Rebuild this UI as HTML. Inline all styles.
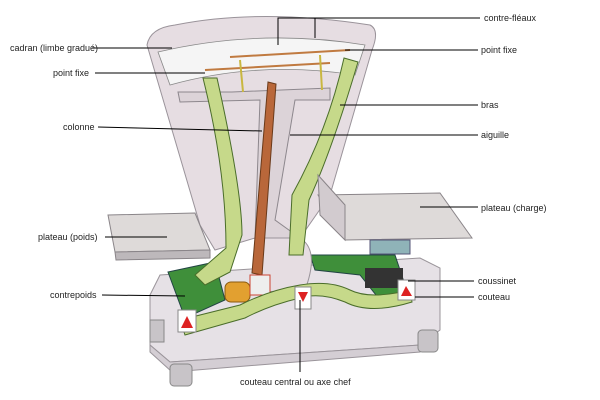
<!DOCTYPE html>
<html><head><meta charset="utf-8"><style>
html,body{margin:0;padding:0;background:#fff}
svg{display:block}
text{font-family:"Liberation Sans",sans-serif;font-size:9px;fill:#222}
</style></head><body>
<svg width="600" height="400" viewBox="0 0 600 400" xmlns="http://www.w3.org/2000/svg">
<!-- base -->
<path d="M150,295 L160,275 L420,258 L440,268 L440,330 L420,345 L170,362 L150,345 Z" fill="#e6e1e6" stroke="#9a949a" stroke-width="1"/>
<path d="M150,345 L170,362 L420,345 L420,352 L172,372 L150,352 Z" fill="#d4ced4" stroke="#9a949a"/>
<rect x="170" y="364" width="22" height="22" rx="4" fill="#c8c4c8" stroke="#888"/>
<rect x="150" y="320" width="14" height="22" fill="#c8c4c8" stroke="#888"/>
<rect x="418" y="330" width="20" height="22" rx="4" fill="#c8c4c8" stroke="#888"/>
<!-- green frame -->
<path d="M168,272 L215,262 L225,300 L185,318 Z" fill="#3f8f3a" stroke="#244"/>
<path d="M310,255 L395,255 L410,300 L380,300 L360,275 L315,270 Z" fill="#3f8f3a" stroke="#244"/>
<rect x="365" y="268" width="38" height="20" fill="#333" />
<!-- head -->
<path d="M147,45 Q150,28 175,25 Q260,8 370,25 Q380,30 372,50 L330,195 L300,238 L255,238 L215,250 L200,225 Z" fill="#e6dde2" stroke="#9a939a"/>
<path d="M158,52 Q260,28 365,45 L355,75 Q260,60 170,85 Z" fill="#f5f5f5" stroke="#888" stroke-width="0.8"/>
<!-- column -->
<path d="M232,92 L330,88 L330,100 L295,100 L275,220 L300,238 L255,238 L260,100 L180,102 L178,92 Z" fill="#dcd3d8" stroke="#8d878d"/>
<path d="M255,238 L300,238 Q320,250 305,290 L260,292 Z" fill="#e6dde2" stroke="#9a939a"/>
<!-- beams -->
<line x1="205" y1="70" x2="330" y2="63" stroke="#c07a40" stroke-width="2"/>
<line x1="230" y1="57" x2="350" y2="50" stroke="#c07a40" stroke-width="2"/>
<line x1="240" y1="60" x2="243" y2="92" stroke="#c9b740" stroke-width="2"/>
<line x1="320" y1="55" x2="322" y2="90" stroke="#c9b740" stroke-width="2"/>
<!-- green arms -->
<path d="M203,78 L217,78 Q242,190 242,235 L230,272 L205,285 L195,275 L226,248 Q226,170 203,78 Z" fill="#c6d98a" stroke="#4a6d2a"/>
<path d="M344,58 L358,62 Q332,150 309,200 L303,255 L289,255 L292,195 Q328,130 344,58 Z" fill="#c6d98a" stroke="#4a6d2a"/>
<!-- needle -->
<path d="M268,82 L276,84 L262,275 L252,273 Z" fill="#b9673a" stroke="#6a3a1a"/>
<!-- plates -->
<path d="M108,215 L195,213 L210,250 L115,252 Z" fill="#dedad9" stroke="#8a8589"/>
<path d="M115,252 L210,250 L210,258 L116,260 Z" fill="#bdb8bb" stroke="#8a8589"/>
<path d="M318,195 L440,193 L472,238 L345,240 Z" fill="#dedad9" stroke="#8a8589"/>
<path d="M318,175 L345,205 L345,240 L320,215 Z" fill="#d2cbcf" stroke="#8a8589"/>
<rect x="370" y="240" width="40" height="14" fill="#8fb3b8" stroke="#557"/>
<!-- counterweight -->
<rect x="225" y="282" width="25" height="20" rx="6" fill="#e2a030" stroke="#8a5a10"/>
<rect x="250" y="275" width="20" height="20" fill="#eee" stroke="#c43"/>
<!-- lever -->
<path d="M180,320 L240,305 Q270,290 300,285 Q330,280 350,290 Q370,300 410,290 L412,302 Q370,315 345,302 Q320,292 300,298 Q270,305 245,318 L185,335 Z" fill="#c6d98a" stroke="#4a6d2a"/>
<!-- knife boxes -->
<rect x="178" y="310" width="18" height="22" fill="#fff" stroke="#888"/><path d="M181,328 L193,328 L187,316 Z" fill="#d22"/>
<rect x="295" y="287" width="16" height="22" fill="#fff" stroke="#888"/><path d="M298,292 L308,292 L303,302 Z" fill="#d22"/>
<rect x="398" y="280" width="17" height="20" fill="#fff" stroke="#888"/><path d="M401,296 L412,296 L406,286 Z" fill="#d22"/>
<!-- leader lines -->
<g stroke="#000" stroke-width="1" fill="none">
<path d="M278,45 L278,18 L480,18 M315,18 L315,38"/>
<line x1="92" y1="48" x2="172" y2="48"/>
<line x1="345" y1="50" x2="478" y2="50"/>
<line x1="95" y1="73" x2="205" y2="73"/>
<line x1="340" y1="105" x2="478" y2="105"/>
<line x1="98" y1="127" x2="262" y2="131"/>
<line x1="290" y1="135" x2="478" y2="135"/>
<line x1="420" y1="207" x2="478" y2="207"/>
<line x1="105" y1="237" x2="167" y2="237"/>
<line x1="408" y1="281" x2="474" y2="281"/>
<line x1="102" y1="295" x2="185" y2="296"/>
<line x1="415" y1="297" x2="474" y2="297"/>
<line x1="300" y1="300" x2="300" y2="372"/>
</g>
<text x="484" y="21">contre-fléaux</text>
<text x="10" y="51">cadran (limbe gradué)</text>
<text x="481" y="53">point fixe</text>
<text x="53" y="76">point fixe</text>
<text x="481" y="108">bras</text>
<text x="63" y="130">colonne</text>
<text x="481" y="138">aiguille</text>
<text x="481" y="211">plateau (charge)</text>
<text x="38" y="240">plateau (poids)</text>
<text x="478" y="284">coussinet</text>
<text x="50" y="298">contrepoids</text>
<text x="478" y="300">couteau</text>
<text x="240" y="385">couteau central ou axe chef</text>
</svg>
</body></html>
